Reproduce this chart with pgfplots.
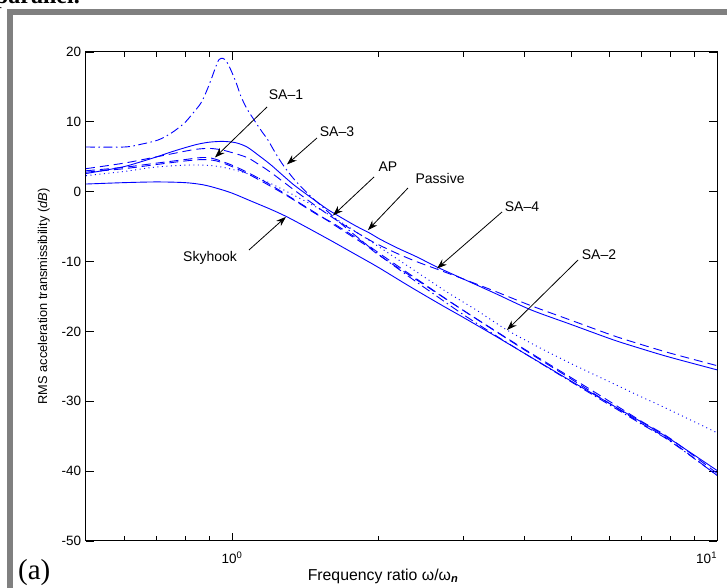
\documentclass[border=0pt]{standalone}
\usepackage{fontspec}
\setmainfont{Liberation Sans}
\newfontfamily\seriffont{Liberation Serif}
\usepackage{pgfplots}
\pgfplotsset{compat=1.18}
\usetikzlibrary{arrows.meta}
\begin{document}
\fontsize{14}{16}\selectfont
\begin{tikzpicture}
\useasboundingbox (0pt,0pt) rectangle (727pt,588pt);
\clip (0pt,0pt) rectangle (727pt,588pt);
\fill[white] (0pt,0pt) rectangle (727pt,588pt);
\fill[gray] (7.3pt,0pt) rectangle (12.7pt,579pt);
\fill[gray] (7.3pt,573pt) rectangle (727pt,579pt);
\node[anchor=base east, inner sep=0pt, font=\seriffont\bfseries\fontsize{24}{26}\selectfont] at (80pt,584.5pt) {parallel.};
\node[anchor=base west, inner sep=0pt, font=\seriffont\fontsize{29}{31}\selectfont] at (18pt,9pt) {(a)};
\begin{axis}[
  at={(86pt,47pt)}, anchor=south west,
  width=631pt, height=489pt, scale only axis,
  xmode=log, log basis x=10,
  xmin=0.5, xmax=10, ymin=-50, ymax=20,
  xtick={1,10},
  xticklabels={{10\textsuperscript{0}},{\llap{10\textsuperscript{1}}}},
  minor xtick={0.6,0.7,0.8,0.9,2,3,4,5,6,7,8,9},
  ytick={-50,-40,-30,-20,-10,0,10,20},
  yticklabels={-50,-40,-30,-20,-10,0,10,20},
  tick align=inside, major tick length=8pt, minor tick length=5pt,
  tick style={black, line width=0.8pt},
  axis line style={black, line width=1pt},
  ticklabel style={font=\fontsize{13.5}{15}\selectfont},
  xticklabel style={yshift=-6pt},
  xlabel={Frequency ratio ω/ω\textsubscript{\textbf{\textit{n}}}},
  ylabel={RMS acceleration transmissibility (\textit{dB})},
  xlabel style={at={(axis description cs:0.4707,-0.0798)}, anchor=base, font=\fontsize{15.8}{18}\selectfont},
  ylabel style={at={(axis description cs:-0.0618,0.5)}, anchor=base, font=\fontsize{12.8}{15}\selectfont},
]
% Passive (solid)
\addplot[blue, line width=0.9pt, smooth] coordinates {
(0.5,2.6) (0.55,3.1) (0.6,3.6) (0.65,4.3) (0.7,5.0) (0.75,5.7) (0.8,6.3) (0.85,6.8) (0.9,7.1) (0.96,7.2) (1.02,7.0) (1.074,6.4) (1.13,5.3) (1.2,3.9) (1.27,2.4) (1.34,1.0) (1.42,-0.3) (1.5,-1.5) (1.58,-2.6) (1.67,-3.6) (1.8,-4.9) (1.92,-5.9) (2.02,-6.8) (2.2,-8.1) (2.4,-9.3) (2.65,-10.8) (3.0,-12.5) (3.5,-14.6) (4.13,-16.9) (5,-19.0) (6.11,-21.2) (7,-22.5) (8,-23.7) (10,-25.5)};
% Skyhook (solid)
\addplot[blue, line width=0.9pt, smooth] coordinates {
(0.5,1.1) (0.6,1.3) (0.7,1.4) (0.8,1.3) (0.87,1.0) (0.93,0.5) (1.0,-0.2) (1.1,-1.4) (1.2,-2.5) (1.29,-3.5) (1.4,-4.8) (1.6,-7.0) (1.8,-9.0) (2.0,-10.8) (2.33,-13.6) (2.7,-16.2) (3,-18.0) (3.5,-20.7) (4,-23.1) (5,-27.1) (6,-30.3) (7,-33.0) (8,-35.4) (10,-39.9)};
% SA-1 (dashed)
\addplot[blue, line width=0.9pt, smooth, dash pattern=on 9pt off 5pt] coordinates {
(0.5,3.0) (0.6,3.5) (0.7,4.1) (0.8,4.6) (0.87,4.9) (0.92,4.7) (1.0,3.8) (1.074,2.8) (1.13,2.0) (1.2,1.0) (1.3,-0.5) (1.4,-1.9) (1.5,-3.2) (1.67,-5.3) (1.9,-7.8) (2.02,-9.2) (2.5,-13.4) (3,-17.0) (4,-22.5) (5,-26.6) (6,-30.0) (7,-32.9) (8,-35.3) (10,-40.3)};
% AP (dashed)
\addplot[blue, line width=0.9pt, smooth, dash pattern=on 9pt off 5pt] coordinates {
(0.5,2.8) (0.6,3.3) (0.7,3.9) (0.8,4.4) (0.87,4.6) (0.93,4.4) (1.0,3.6) (1.074,2.6) (1.13,1.8) (1.2,0.8) (1.3,-0.6) (1.4,-2.0) (1.5,-3.3) (1.615,-4.5) (1.9,-7.6) (2.02,-8.9) (2.5,-13.3) (3,-17.0) (4,-22.6) (5,-26.8) (6,-30.3) (7,-33.2) (8,-35.6) (10,-40.6)};
% SA-4 (dashed)
\addplot[blue, line width=0.9pt, smooth, dash pattern=on 9pt off 5pt] coordinates {
(0.5,3.3) (0.6,4.1) (0.7,5.0) (0.8,5.8) (0.85,6.1) (0.9,6.2) (0.95,6.0) (1.0,5.6) (1.074,4.9) (1.13,4.0) (1.2,2.8) (1.34,0.3) (1.5,-2.2) (1.67,-4.4) (1.92,-6.9) (2.02,-7.7) (2.2,-8.9) (2.4,-10.0) (2.65,-11.1) (3.0,-12.5) (3.5,-14.3) (4.13,-16.3) (5,-18.4) (6.11,-20.6) (7,-21.9) (8,-23.1) (10,-24.9)};
% SA-3 (dash-dot)
\addplot[blue, line width=0.9pt, smooth, dash pattern=on 9pt off 3.5pt on 1.5pt off 3.5pt] coordinates {
(0.5,6.4) (0.6,6.4) (0.65,6.8) (0.704,7.4) (0.75,8.4) (0.797,9.8) (0.83,11.2) (0.863,12.7) (0.885,14.3) (0.905,16.0) (0.925,17.8) (0.94,18.9) (0.958,19.1) (0.975,18.6) (0.995,17.4) (1.02,15.6) (1.044,13.6) (1.075,11.8) (1.11,10.3) (1.15,8.7) (1.186,7.4) (1.23,5.5) (1.278,3.7) (1.35,1.6) (1.45,-0.6) (1.55,-2.4) (1.7,-4.9) (1.85,-7.0) (2.0,-8.9) (2.3,-12.0) (2.6,-14.6) (3,-17.6) (3.5,-20.6) (4,-23.1) (5,-27.2) (6,-30.5) (7,-33.3) (8,-35.7) (10,-40.6)};
% SA-2 (dotted)
\addplot[blue, line width=0.9pt, smooth, dash pattern=on 1pt off 3.5pt] coordinates {
(0.5,2.3) (0.6,2.9) (0.69,3.5) (0.8,3.8) (0.88,3.8) (0.94,3.6) (1.0,3.2) (1.074,2.6) (1.2,1.2) (1.35,-0.6) (1.5,-2.3) (1.7,-4.6) (2.0,-7.8) (2.37,-11.2) (2.78,-14.4) (3.2,-17.0) (3.69,-19.8) (4.3,-22.3) (5,-24.6) (6,-27.2) (7,-29.4) (7.75,-30.8) (10,-34.5)};
% annotations
\draw[-{Stealth[length=10pt,width=7pt]}, line width=0.8pt] (axis cs:1.181,12.13) -- (axis cs:0.9224,4.9);
\node at (axis cs:1.292,13.84) {SA–1};
\draw[-{Stealth[length=10pt,width=7pt]}, line width=0.8pt] (axis cs:1.497,7.69) -- (axis cs:1.298,3.9);
\node at (axis cs:1.646,8.55) {SA–3};
\draw[-{Stealth[length=10pt,width=7pt]}, line width=0.8pt] (axis cs:1.963,2.11) -- (axis cs:1.615,-3.4);
\node at (axis cs:2.097,3.54) {AP};
\draw[-{Stealth[length=10pt,width=7pt]}, line width=0.8pt] (axis cs:2.306,0.53) -- (axis cs:1.907,-5.5);
\node at (axis cs:2.685,1.96) {Passive};
\draw[-{Stealth[length=10pt,width=7pt]}, line width=0.8pt] (axis cs:3.604,-2.90) -- (axis cs:2.647,-11.0);
\node at (axis cs:3.963,-2.19) {SA–4};
\draw[-{Stealth[length=10pt,width=7pt]}, line width=0.8pt] (axis cs:5.170,-9.78) -- (axis cs:3.690,-19.8);
\node at (axis cs:5.710,-9.06) {SA–2};
\draw[-{Stealth[length=10pt,width=7pt]}, line width=0.8pt] (axis cs:1.084,-8.34) -- (axis cs:1.292,-3.6);
\node at (axis cs:0.9009,-9.49) {Skyhook};
\end{axis}
\end{tikzpicture}
\end{document}
